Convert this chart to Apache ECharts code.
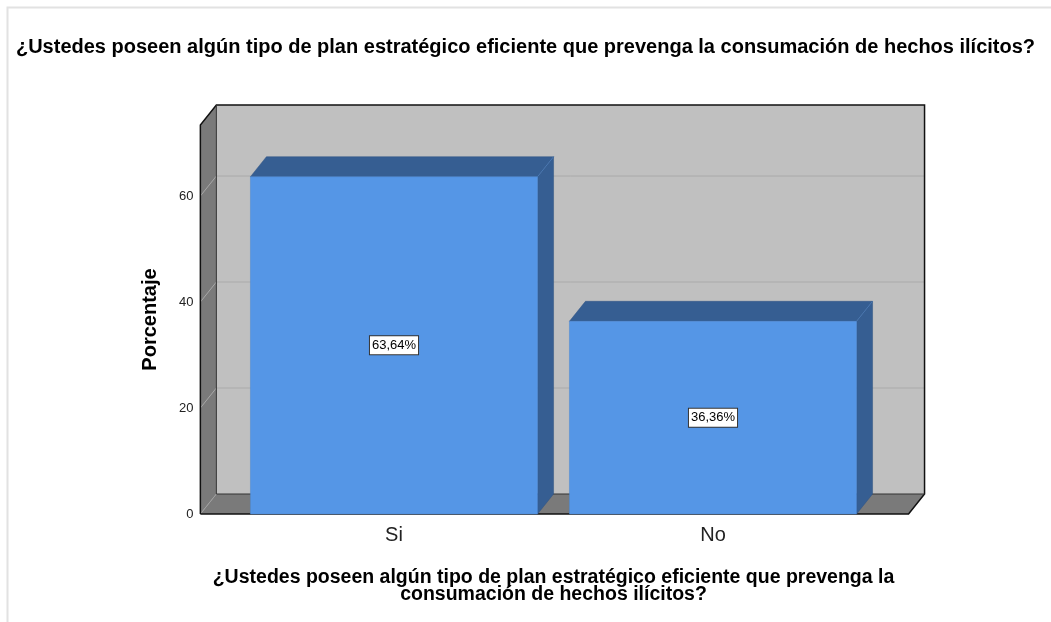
<!DOCTYPE html>
<html style="height: 100%">
<head>
    <meta charset="UTF-8">
    <script src="https://cdn.jsdelivr.net/npm/echarts@6/dist/echarts.min.js"></script>
    <style type="text/css">
        html, body { margin: 0; padding: 0; background: #ffffff; }
    </style>
</head>
<body>
    <div id="paint" style="width: 1051px; height: 622px;"></div>
<script>
    // datos del gráfico
    var categories = ['Si', 'No'];
    var percentages = [63.64, 36.36];
    var valueLabels = ['63,64%', '36,36%'];
    var yTicks = [20, 40, 60];
    var yMax = 73.4;

    var titleText = '¿Ustedes poseen algún tipo de plan estratégico eficiente que prevenga la consumación de hechos ilícitos?';
    var xName = '¿Ustedes poseen algún tipo de plan estratégico eficiente que prevenga la\nconsumación de hechos ilícitos?';

    // profundidad del efecto 3D
    var DX = 16, DY = -20;
    var FONT = 'Arial, "Liberation Sans", sans-serif';

    function renderWalls(params, api) {
        var band = api.size([1, 0])[0];
        var c0 = api.coord([0, 0]);
        var c1 = api.coord([categories.length - 1, 0]);
        var left = c0[0] - band * 0.607;
        var right = c1[0] + band * 0.613;
        var bottom = c0[1];
        var top = api.coord([0, yMax])[1];
        var kids = [];
        // pared del fondo
        kids.push({type: 'rect', shape: {x: left + DX, y: top + DY, width: right - left, height: bottom - top},
            style: {fill: '#c0c0c0'}});
        // pared izquierda
        kids.push({type: 'polygon', shape: {points: [[left, top], [left + DX, top + DY], [left + DX, bottom + DY], [left, bottom]]},
            style: {fill: '#7a7a7a'}});
        // piso
        kids.push({type: 'polygon', shape: {points: [[left, bottom], [right, bottom], [right + DX, bottom + DY], [left + DX, bottom + DY]]},
            style: {fill: '#7a7a7a'}});
        // líneas de cuadrícula
        yTicks.forEach(function (v) {
            var y = api.coord([0, v])[1];
            kids.push({type: 'line', shape: {x1: left + DX, y1: y + DY, x2: right + DX, y2: y + DY},
                style: {stroke: '#aaaaaa', lineWidth: 1}});
            kids.push({type: 'line', shape: {x1: left, y1: y, x2: left + DX, y2: y + DY},
                style: {stroke: '#a8a8a8', lineWidth: 1}});
        });
        kids.push({type: 'line', shape: {x1: left, y1: bottom, x2: left + DX, y2: bottom + DY},
            style: {stroke: '#a0a0a0', lineWidth: 1}});
        // bordes
        kids.push({type: 'polyline', shape: {points: [[left, bottom], [left, top], [left + DX, top + DY], [right + DX, top + DY], [right + DX, bottom + DY], [right, bottom], [left, bottom]]},
            style: {stroke: '#111', lineWidth: 1.5, fill: null}});
        kids.push({type: 'polyline', shape: {points: [[left + DX, top + DY], [left + DX, bottom + DY], [right + DX, bottom + DY]]},
            style: {stroke: '#333', lineWidth: 1, fill: null}});
        return {type: 'group', children: kids};
    }

    function renderBar(params, api) {
        var idx = api.value(0);
        var pt = api.coord([idx, api.value(1)]);
        var base = api.coord([idx, 0]);
        var bw = api.size([1, 0])[0] * 0.9;
        var x0 = pt[0] - bw / 2, x1 = pt[0] + bw / 2;
        var top = pt[1], bottom = base[1];
        return {type: 'group', children: [
            {type: 'polygon', shape: {points: [[x1, top], [x1 + DX, top + DY], [x1 + DX, bottom + DY], [x1, bottom]]},
                style: {fill: '#365e92', stroke: '#2e5282', lineWidth: 0.5}},
            {type: 'polygon', shape: {points: [[x0, top], [x1, top], [x1 + DX, top + DY], [x0 + DX, top + DY]]},
                style: {fill: '#365e92', stroke: '#2e5282', lineWidth: 0.5}},
            {type: 'line', shape: {x1: x1, y1: top, x2: x1 + DX, y2: top + DY},
                style: {stroke: '#4a78b2', lineWidth: 1}},
            {type: 'rect', shape: {x: x0, y: top, width: bw, height: bottom - top},
                style: {fill: '#5596e6', stroke: '#4a86d2', lineWidth: 0.5}},
            {type: 'text', x: pt[0], y: (top + bottom) / 2,
                style: {text: valueLabels[idx], align: 'center', verticalAlign: 'middle',
                    font: '13px ' + FONT, fill: '#000', backgroundColor: '#ffffff',
                    borderColor: '#333333', borderWidth: 1, padding: [3, 2, 2, 2]}}
        ]};
    }

    var chart = echarts.init(document.getElementById('paint'));
    chart.setOption({
        backgroundColor: '#ffffff',
        animation: false,
        graphic: [{type: 'rect', left: 5, top: 5, shape: {width: 1100, height: 700},
            style: {fill: null, stroke: '#e2e2e2', lineWidth: 2}, z: -10}],
        title: {
            text: titleText, left: 'center', top: 32,
            textStyle: {fontSize: 20, fontWeight: 'bold', color: '#000', fontFamily: FONT}
        },
        grid: {left: 234.5, right: 178.5, top: 125, bottom: 108},
        xAxis: {
            type: 'category', data: categories,
            axisLine: {show: false}, axisTick: {show: false},
            axisLabel: {fontSize: 20, color: '#222', margin: 11, fontFamily: FONT},
            name: xName, nameLocation: 'middle', nameGap: 55,
            nameTextStyle: {fontSize: 19.5, fontWeight: 'bold', color: '#000', fontFamily: FONT, lineHeight: 17}
        },
        yAxis: {
            type: 'value', min: 0, max: yMax, interval: 20,
            axisLine: {show: false}, axisTick: {show: false}, splitLine: {show: false},
            axisLabel: {fontSize: 13, color: '#222', margin: 41, fontFamily: FONT,
                showMaxLabel: false},
            name: 'Porcentaje', nameLocation: 'middle', nameGap: 74, nameRotate: 90,
            nameTextStyle: {fontSize: 20, fontWeight: 'bold', color: '#000', fontFamily: FONT}
        },
        series: [
            {type: 'custom', renderItem: renderWalls, data: [[0, 0]], silent: true, z: 1},
            {type: 'custom', renderItem: renderBar, z: 2,
                data: percentages.map(function (v, i) { return [i, v]; })}
        ]
    });
</script>
</body>
</html>
